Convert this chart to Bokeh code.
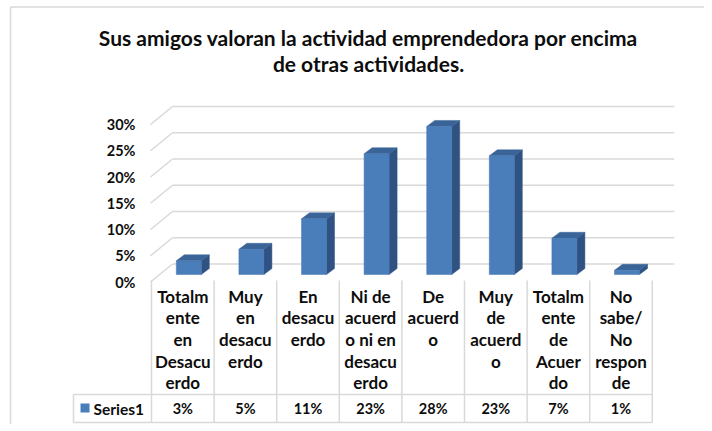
from bokeh.plotting import figure
from bokeh.models import Range1d
from bokeh.core.properties import value
from bokeh.embed import file_html
from bokeh.resources import INLINE

# ---------------- data ----------------
title_lines = ["Sus amigos valoran la actividad emprendedora por encima",
               "de otras actividades."]
categories = ["Totalm\nente\nen\nDesacu\nerdo",
              "Muy\nen\ndesacu\nerdo",
              "En\ndesacu\nerdo",
              "Ni de\nacuerd\no ni en\ndesacu\nerdo",
              "De\nacuerd\no",
              "Muy\nde\nacuerd\no",
              "Totalm\nente\nde\nAcuer\ndo",
              "No\nsabe/\nNo\nrespon\nde"]
values = [2.6, 4.8, 10.6, 23.0, 28.2, 22.6, 6.9, 0.8]
series_name = "Series1"
y_ticks = [0, 5, 10, 15, 20, 25, 30]
y_tick_labels = ["0%", "5%", "10%", "15%", "20%", "25%", "30%"]
table_labels = [f"{v:.0f}%" for v in values]

# ---------------- layout / style ----------------
W, H = 704, 424
PAGE0 = 0
COL_LEFT = 151.0      # page x of first column's left edge
COL_W = 62.6          # page px per category
Y0 = 281.5            # page y of 0% on front plane
PX_PCT = 5.25         # page px per 1 %

def X(px):
    return (px - COL_LEFT) / COL_W

def Y(py):
    return (Y0 - py) / PX_PCT

DEPTH_DX = 22 / COL_W
DEPTH_DY = 18 / PX_PCT
BAR_OFF_X = 6 / COL_W
BAR_OFF_Y = 7.5 / PX_PCT
BAR_HW = 12.5 / COL_W
BAR_DDX = 8 / COL_W
BAR_DDY = 6 / PX_PCT

FRONT = "#4a7ebb"
SIDE = "#2f5283"
TOP = "#3a6498"
GRID = "#d9d9d9"
TXT = "#0d0d0d"
FONT = value("Lato")

p = figure(width=W, height=H, output_backend="svg", toolbar_location=None,
           x_range=Range1d(X(PAGE0), X(PAGE0 + W)),
           y_range=Range1d(Y(PAGE0 + H), Y(PAGE0)),
           x_axis_type=None, y_axis_type=None, min_border=0,
           outline_line_color=None, background_fill_color="white",
           border_fill_color="white")

# chart border (top + left)
p.segment(x0=[X(10), X(10)], y0=[Y(6.5), Y(6.5)], x1=[X(712), X(10)], y1=[Y(6.5), Y(431)],
          line_color=GRID, line_width=1.5)

# gridlines: left wall diagonals and back wall horizontals
n = len(categories)
p.segment(x0=[X(150)] * len(y_ticks), y0=y_ticks,
          x1=[X(150) + DEPTH_DX] * len(y_ticks), y1=[t + DEPTH_DY for t in y_ticks],
          line_color=GRID, line_width=1.5)
p.segment(x0=[X(150) + DEPTH_DX] * len(y_ticks), y0=[t + DEPTH_DY for t in y_ticks],
          x1=[n + DEPTH_DX] * len(y_ticks), y1=[t + DEPTH_DY for t in y_ticks],
          line_color=GRID, line_width=1.5)

# y tick labels
p.text(x=[X(135)] * len(y_ticks), y=y_ticks, text=y_tick_labels,
       text_font=FONT, text_font_style="bold", text_font_size="14.5px",
       text_color=TXT, text_align="right", text_baseline="middle")

# 3D bars
cx = [i + 0.5 + BAR_OFF_X for i in range(n)]
x0 = [c - BAR_HW for c in cx]
x1 = [c + BAR_HW for c in cx]
b = BAR_OFF_Y
tops = [b + v for v in values]
side_xs = [[a, a + BAR_DDX, a + BAR_DDX, a] for a in x1]
side_ys = [[b, b + BAR_DDY, t + BAR_DDY, t] for t in tops]
top_xs = [[l, r, r + BAR_DDX, l + BAR_DDX] for l, r in zip(x0, x1)]
top_ys = [[t, t, t + BAR_DDY, t + BAR_DDY] for t in tops]
p.patches(xs=side_xs, ys=side_ys, fill_color=SIDE, line_color=SIDE, line_width=0.5)
p.patches(xs=top_xs, ys=top_ys, fill_color=TOP, line_color=TOP, line_width=0.5)
p.quad(left=x0, right=x1, bottom=[b] * n, top=tops,
       fill_color=FRONT, line_color="#4577b2", line_width=0.5)

# category labels
p.text(x=[i + 0.5 for i in range(n)], y=[Y(285)] * n, text=categories,
       text_font=FONT, text_font_style="bold", text_font_size="17px",
       text_color=TXT, text_align="center", text_baseline="top",
       text_line_height=1.035)

# data table lines
p.segment(x0=[X(73), X(73)], y0=[Y(394), Y(422)], x1=[n, n], y1=[Y(394), Y(422)],
          line_color=GRID, line_width=1.5)
p.segment(x0=[X(73)], y0=[Y(394)], x1=[X(73)], y1=[Y(422)],
          line_color=GRID, line_width=1.5)
p.segment(x0=list(range(n + 1)), y0=[Y(280)] * (n + 1),
          x1=list(range(n + 1)), y1=[Y(422)] * (n + 1),
          line_color=GRID, line_width=1.5)

# data table row
p.quad(left=[X(80)], right=[X(89)], top=[Y(403)], bottom=[Y(412)],
       fill_color=FRONT, line_color=None)
p.text(x=[X(93)], y=[Y(408)], text=[series_name],
       text_font=FONT, text_font_style="bold", text_font_size="15.5px",
       text_color=TXT, text_align="left", text_baseline="middle")
p.text(x=[i + 0.5 for i in range(n)], y=[Y(408)] * n, text=table_labels,
       text_font=FONT, text_font_style="bold", text_font_size="14.5px",
       text_color=TXT, text_align="center", text_baseline="middle")

# title
p.text(x=[X(368), X(368)], y=[Y(37), Y(63)], text=title_lines,
       text_font=FONT, text_font_style="bold", text_font_size="21px",
       text_color=TXT, text_align="center", text_baseline="middle")

open("out.html", "w").write(file_html(p, INLINE))
